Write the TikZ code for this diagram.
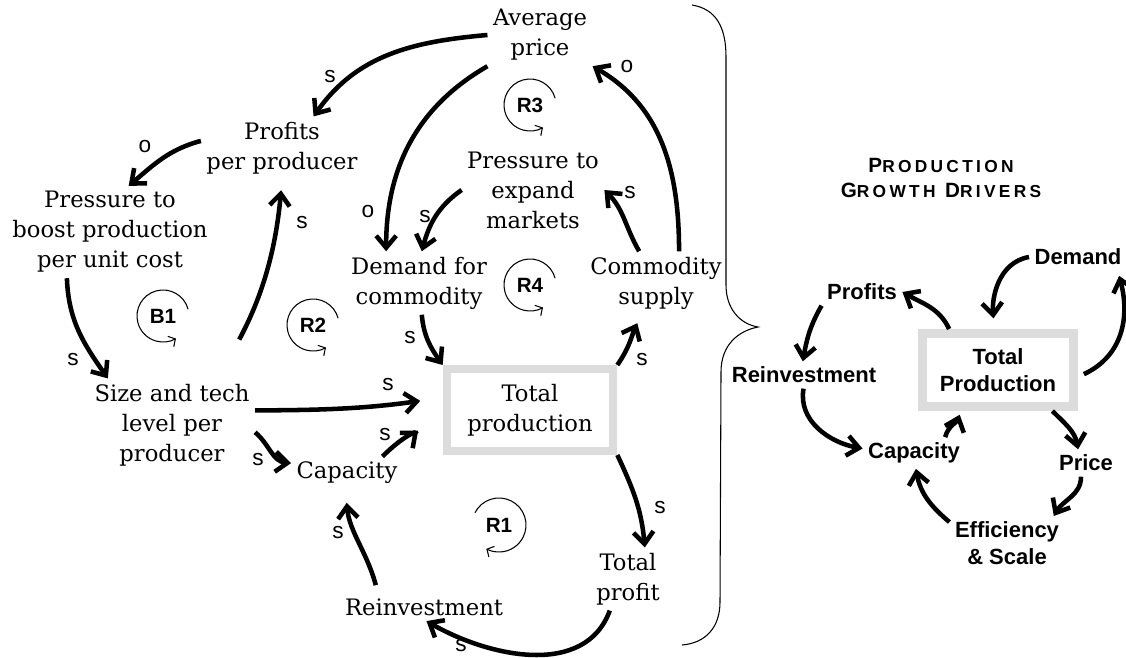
\documentclass[tikz,border=0pt]{standalone}
\usepackage{fontspec}
\setmainfont{DejaVu Serif}
\setsansfont{Liberation Sans}
\newfontfamily\capsfont[LetterSpace=19]{Liberation Sans}
\usetikzlibrary{arrows.meta}

\definecolor{boxgray}{HTML}{DCDCDC}
\newcommand{\smc}[1]{{\fontsize{13}{19}\selectfont #1}}

\tikzset{
  var/.style={align=center, inner sep=4pt, font=\fontsize{17}{22.5}\selectfont},
  drv/.style={align=center, inner sep=4pt, font=\sffamily\bfseries\fontsize{16.5}{20}\selectfont},
  stock/.style={draw=boxgray, line width=6pt, minimum width=125pt, minimum height=61.5pt},
  stockb/.style={draw=boxgray, line width=6.75pt, minimum width=113pt, minimum height=54.75pt},
  link/.style={line width=3.4pt, -{Straight Barb[length=9pt,width=15pt]}},
  pol/.style={font=\sffamily\fontsize{17}{17}\selectfont, inner sep=0pt},
  lp/.style={font=\sffamily\bfseries\fontsize{15.5}{15.5}\selectfont, inner sep=0pt},
  loopc/.style={line width=0.8pt, -{Straight Barb[length=4pt,width=9pt]}}
}

\begin{document}
\begin{tikzpicture}[x=0.75pt,y=0.75pt]
\useasboundingbox (0,0) rectangle (1126,657);

% main causal loop diagram
\node[var] (avg) at (540,622) {Average\\price};
\node[var] (ppp) at (282,509) {Profits\\per producer};
\node[var] (boost) at (110,425) {Pressure to\\boost production\\per unit cost};
\node[var] (expand) at (533,467) {Pressure to\\expand\\markets};
\node[var] (demand) at (419,374) {Demand for\\commodity};
\node[var] (supply) at (656,374) {Commodity\\supply};
\node[var, stock] (tp) at (530,247) {Total\\production};
\node[var] (size) at (172,232) {Size and tech\\level per\\producer};
\node[var] (cap) at (347,184) {Capacity};
\node[var] (reinv) at (424,50) {Reinvestment};
\node[var] (profit) at (628,78) {Total\\profit};

\draw[link] (avg.west) to[out=185,in=55] (ppp.45);
\draw[link] (avg.south west) to[out=210,in=90] (demand.136);
\draw[link] (supply.54) to[out=90,in=-30] (avg.south east);
\draw[link] (ppp.175) to[out=195,in=40] (boost.68);
\draw[link] (boost.-133) to[out=-88,in=125] (size.144);
\draw[link, shorten <=33pt, shorten >=8pt] (size.45) to[out=62,in=-95] (ppp.south);
\draw[link] (expand.west) to[out=215,in=75] (demand.85);
\draw[link] (supply.118) to[out=120,in=-45] (expand.east);
\draw[link] (demand.-85) to[out=-85,in=125] (tp.north west);
\draw[link, shorten >=7pt] (tp.north east) to[out=55,in=-115] (supply.-115);
\draw[link, shorten >=17pt] (size.10) to[out=0,in=188] (tp.172);
\draw[link] (size.-5) to[out=-40,in=175] (cap.170);
\draw[link, shorten >=24pt] (cap.25) to[out=45,in=220] (tp.west);
\draw[link, shorten <=6pt, shorten >=10pt] (reinv.163) to[out=105,in=-85] (cap.-95);
\draw[link] (tp.south east) to[out=-65,in=95] (profit.62);
\draw[link] (profit.-120) to[out=-110,in=-30] (reinv.-80);

% polarities
\node[pol] (p1) at (330,580) {s};
\node[pol] (p2) at (368,445) {o};
\node[pol] (p3) at (627,590) {o};
\node[pol] (p4) at (145,510) {o};
\node[pol] (p5) at (73,297) {s};
\node[pol] (p6) at (302,434) {s};
\node[pol] (p7) at (425,440) {s};
\node[pol] (p8) at (630,464) {s};
\node[pol] (p9) at (410,319) {s};
\node[pol] (p10) at (642,297) {s};
\node[pol] (p11) at (388,272) {s};
\node[pol] (p12) at (258,197) {s};
\node[pol] (p13) at (385,222) {s};
\node[pol] (p14) at (338,124) {s};
\node[pol] (p15) at (660,149) {s};
\node[pol] (p16) at (461,11) {s};

% loop markers
\node[lp] (b1) at (163,341) {B1};
\node[lp] (r2) at (313,332) {R2};
\node[lp] (r3) at (530,552) {R3};
\node[lp] (r4) at (530,372) {R4};
\node[lp] (r1) at (499,132) {R1};
\draw[loopc] ([shift={(15:26)}]b1.center) arc[start angle=15, end angle=300, radius=26];
\draw[loopc] ([shift={(15:26)}]r2.center) arc[start angle=15, end angle=300, radius=26];
\draw[loopc] ([shift={(15:26)}]r3.center) arc[start angle=15, end angle=300, radius=26];
\draw[loopc] ([shift={(15:26)}]r4.center) arc[start angle=15, end angle=300, radius=26];
\draw[loopc] ([shift={(153:27)}]r1.center) arc[start angle=153, end angle=-118, radius=27];

% brace
\draw[line width=0.8pt] (692,652) .. controls (716,648) and (726,630) .. (726,600) -- (726,372)
  .. controls (726,348) and (740,333) .. (758,330)
  .. controls (738,326) and (721,312) .. (721,285) -- (720,55)
  .. controls (720,30) and (706,14) .. (682,12);

% growth drivers
\node[align=center, inner sep=0pt, font=\capsfont\bfseries\fontsize{15.5}{19}\selectfont] (ttl) at (941,479)
  {P\smc{RODUCTION}\\G\smc{ROWTH} D\smc{RIVERS}};
\node[drv] (dem2) at (1078,400) {Demand};
\node[drv] (prof2) at (862,365) {Profits};
\node[drv] (reinv2) at (804,282) {Reinvestment};
\node[drv, stockb] (tp2) at (998,287) {Total\\Production};
\node[drv] (cap2) at (914,204) {Capacity};
\node[drv] (price2) at (1086,194) {Price};
\node[drv] (eff2) at (1007,114) {Efficiency\\\& Scale};

\draw[link] (tp2.140) to[out=115,in=-30] (prof2.east);
\draw[link] (prof2.south west) to[out=-120,in=80] (reinv2.95);
\draw[link] (reinv2.-92) to[out=-100,in=170] (cap2.175);
\draw[link, shorten >=3pt] (cap2.27) to[out=75,in=-110] (tp2.-132);
\draw[link, shorten >=8pt] (dem2.west) to[out=190,in=95] (tp2.95);
\draw[link, shorten <=5pt, shorten >=4pt] (tp2.-5) to[out=25,in=-75,looseness=1.1] (dem2.-19);
\draw[link] (tp2.-37) to[out=-45,in=100] (price2.120);
\draw[link] (price2.-110) to[out=-90,in=60] (eff2.30);
\draw[link] (eff2.160) to[out=140,in=-80] (cap2.-83);
\end{tikzpicture}
\end{document}
